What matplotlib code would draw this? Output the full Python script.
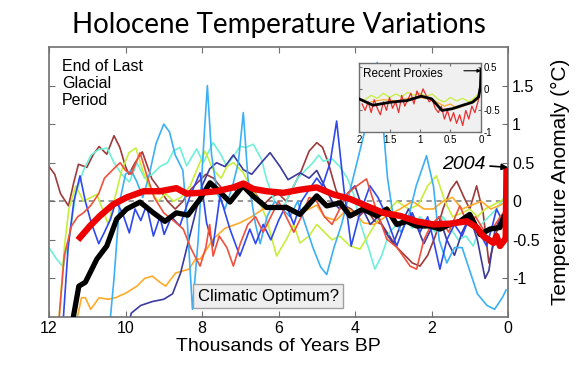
import matplotlib
matplotlib.use("Agg")
import matplotlib.pyplot as plt

# ---------------- data (thousands of years BP, temperature anomaly in C) -------------
brown_x = [12.0,11.85,11.7,11.49,11.35,11.23,11.01,10.85,10.69,10.49,10.30,10.15,10.0,9.91,9.75,9.56,9.31,9.1,8.9,8.7,8.5,8.3,8.1,7.9,7.7,7.45,7.25,7.05,6.85,6.6,6.4,6.2,6.0,5.8,5.6,5.4,5.2,5.0,4.85,4.7,4.5,4.3,4.1,3.9,3.7,3.5,3.3,3.1,2.9,2.7,2.5,2.3,2.1,1.9,1.7,1.5,1.34,1.15,1.0,0.82,0.65,0.5,0.4,0.25,0.1]
brown_y = [0.45,0.35,0.1,-0.06,0.25,0.48,0.44,0.6,0.71,0.61,0.85,0.7,0.45,0.35,0.5,0.64,0.29,0.15,0.0,-0.1,0.0,0.15,0.25,0.35,0.3,0.15,0.2,0.1,0.25,0.1,-0.05,0.05,0.1,0.0,0.2,0.4,0.65,0.76,0.7,0.5,0.15,-0.05,-0.1,-0.2,-0.1,-0.25,-0.3,-0.45,-0.6,-0.7,-0.8,-0.84,-0.7,-0.45,-0.1,0.15,0.26,0.05,-0.1,0.2,-0.15,-0.8,-0.6,-0.3,-0.2]

navy_x = [10.0,9.85,9.6,9.3,9.0,8.77,8.56,8.34,8.17,8.0,7.8,7.62,7.4,7.18,6.92,6.7,6.45,6.22,5.96,5.75,5.44,5.2,5.0,4.8,4.6,4.4,4.2,4.0,3.8,3.6,3.4,3.2,3.0,2.8,2.6,2.4,2.2,2.0,1.8,1.6,1.4,1.2,1.0,0.8,0.6,0.5,0.35,0.2,0.08]
navy_y = [-1.8,-1.45,-1.35,-1.3,-1.27,-1.2,-0.93,-0.49,-0.15,0.2,0.42,0.5,0.45,0.6,0.41,0.35,0.5,0.63,0.45,0.28,0.37,0.3,0.4,0.2,0.0,-0.1,0.1,0.2,-0.1,-0.3,-0.2,-0.4,-0.55,-0.3,-0.1,-0.3,-0.55,-0.35,-0.2,-0.5,-0.7,-0.4,-0.2,-0.5,-1.0,-0.9,-0.4,-0.2,-0.3]

blue_x = [11.65,11.5,11.35,11.19,11.05,10.9,10.7,10.55,10.39,10.25,10.08,9.9,9.75,9.6,9.45,9.27,9.1,8.99,8.8,8.58,8.31,8.05,7.88,7.71,7.53,7.27,7.01,6.75,6.6,6.4,6.2,6.0,5.8,5.6,5.4,5.2,5.0,4.85,4.65,4.48,4.3,4.1,3.9,3.61,3.4,3.26,2.91,2.7,2.5,2.3,2.1,1.95,1.78,1.6,1.4,1.2,1.0,0.8,0.56,0.4,0.3,0.15,0.05]
blue_y = [-1.7,-0.6,0.0,0.33,0.0,-0.27,-0.55,-0.4,-0.23,0.0,-0.15,-0.41,-0.1,-0.25,-0.05,-0.45,-0.2,-0.43,-0.2,-0.32,0.07,0.37,-0.28,-0.58,0.07,-0.36,-0.71,-0.36,-0.55,-0.3,-0.5,-0.25,-0.05,-0.3,0.0,0.15,0.3,0.2,0.5,1.04,0.2,-0.58,-0.2,0.2,0.05,-0.1,-0.58,-0.3,-0.15,-0.4,-0.2,-0.5,-0.88,-0.5,-0.3,-0.45,-0.2,-0.35,-0.58,-0.3,-0.1,-0.25,-0.2]

lblue_x = [10.45,10.3,10.15,10.0,9.85,9.7,9.55,9.4,9.2,9.0,8.85,8.7,8.5,8.38,8.25,8.1,7.95,7.86,7.75,7.6,7.4,7.2,7.05,6.92,6.8,6.6,6.48,6.3,6.1,5.9,5.7,5.5,5.3,5.1,4.9,4.74,4.55,4.35,4.15,3.95,3.75,3.55,3.42,3.3,3.15,3.0,2.8,2.6,2.4,2.13,1.95,1.8,1.6,1.4,1.2,1.0,0.8,0.55,0.35,0.15,0.05]
lblue_y = [-1.8,-1.0,0.0,0.35,0.4,0.25,0.05,0.3,0.75,1.0,0.9,0.6,0.4,-0.3,-1.4,-0.5,0.8,1.5,0.6,0.1,-0.1,0.2,0.5,1.15,0.3,-0.3,-0.55,-0.2,0.0,-0.1,-0.2,0.0,-0.3,-0.6,-0.85,-0.95,-0.6,-0.3,0.1,0.5,0.9,1.5,1.8,1.2,0.3,-0.2,-0.4,-0.2,0.2,0.59,0.2,-0.5,-0.8,-0.6,-0.6,-0.9,-1.2,-1.35,-1.4,-1.25,-1.15]

aqua_x = [12.0,11.8,11.63,11.45,11.3,11.1,10.9,10.7,10.48,10.3,10.1,9.9,9.7,9.5,9.3,9.1,8.9,8.75,8.58,8.4,8.14,7.97,7.71,7.5,7.36,7.15,7.01,6.84,6.66,6.44,6.31,6.1,5.9,5.7,5.5,5.3,5.1,4.95,4.83,4.6,4.4,4.2,4.04,3.85,3.65,3.48,3.3,3.1,2.9,2.7,2.5,2.3,2.1,1.9,1.7,1.5,1.3,1.1,0.91,0.7,0.5,0.3,0.1]
aqua_y = [-0.6,-0.75,-0.85,-0.4,0.1,0.4,0.6,0.67,0.69,0.5,0.35,0.25,0.5,0.3,0.35,0.45,0.5,0.65,0.7,0.46,0.68,0.5,0.76,0.6,0.46,0.6,0.71,0.70,0.74,0.54,0.28,0.0,-0.1,0.1,0.3,0.4,0.5,0.6,0.52,0.55,0.45,0.3,0.1,-0.3,-0.6,-0.88,-0.7,-0.4,-0.3,-0.2,-0.35,-0.2,-0.3,-0.4,-0.2,-0.35,-0.5,-0.45,-0.58,-0.3,-0.2,-0.1,0.05]

ygreen_x = [11.75,11.6,11.48,11.3,11.1,10.9,10.75,10.6,10.45,10.3,10.1,9.91,9.73,9.55,9.35,9.15,8.95,8.75,8.55,8.31,8.1,7.92,7.71,7.5,7.35,7.18,6.92,6.75,6.55,6.31,6.05,5.79,5.6,5.44,5.2,5.0,4.8,4.6,4.4,4.13,3.87,3.6,3.35,3.1,2.9,2.6,2.35,2.1,1.87,1.65,1.45,1.2,1.0,0.8,0.6,0.4,0.2,0.05]
ygreen_y = [-1.6,-0.6,-0.1,0.2,0.0,0.05,0.09,-0.1,-0.3,0.0,0.4,0.63,0.69,0.4,0.15,0.0,0.1,0.0,0.05,0.2,0.45,0.65,0.41,0.3,0.45,0.5,0.37,0.2,0.05,-0.23,-0.71,-0.49,-0.3,-0.54,-0.45,-0.3,-0.4,-0.5,-0.45,-0.58,-0.62,-0.4,-0.2,-0.1,0.0,-0.1,-0.05,0.2,0.33,0.0,-0.2,-0.15,-0.1,-0.2,-0.1,-0.05,0.0,0.05]

orange_x = [11.3,11.15,11.05,10.91,10.69,10.45,10.26,9.99,9.7,9.5,9.3,9.1,8.95,8.69,8.34,8.17,8.05,7.85,7.71,7.4,7.01,6.7,6.4,6.1,5.8,5.44,5.2,5.0,4.8,4.5,4.2,4.0,3.78,3.5,3.2,2.82,2.5,2.2,1.95,1.7,1.45,1.2,0.95,0.7,0.45,0.2,0.05]
orange_y = [-1.6,-1.25,-1.25,-1.40,-1.25,-1.27,-1.25,-1.19,-1.1,-1.0,-0.97,-1.05,-1.10,-0.93,-0.88,-0.75,-0.75,-0.6,-0.49,-0.35,-0.28,-0.2,-0.1,-0.1,-0.05,-0.15,-0.1,-0.05,-0.2,-0.25,-0.1,-0.15,-0.28,-0.3,-0.2,-0.1,0.0,-0.1,-0.1,0.0,0.05,-0.1,-0.05,0.0,-0.1,-0.05,0.0]

red_x = [11.75,11.6,11.41,11.25,11.1,10.9,10.7,10.55,10.41,10.25,10.14,10.0,9.85,9.62,9.45,9.25,9.0,8.75,8.49,8.3,8.05,7.9,7.8,7.71,7.55,7.35,7.18,7.0,6.8,6.6,6.4,6.2,6.0,5.8,5.6,5.4,5.2,5.0,4.8,4.6,4.4,4.2,3.95,3.7,3.45,3.17,2.9,2.56,2.39,2.2,2.0,1.8,1.55,1.26,1.05,0.85,0.6,0.4,0.2,0.05]
red_y = [-1.6,-0.7,-0.32,-0.2,-0.15,-0.05,0.1,0.3,0.37,0.45,0.5,0.4,0.35,0.63,0.35,0.05,-0.15,-0.25,-0.36,-0.6,-0.84,-0.6,-0.3,-0.71,-0.45,-0.6,-0.84,-0.55,-0.3,-0.2,-0.4,-0.2,0.0,-0.2,-0.4,-0.2,0.05,0.0,-0.2,-0.3,-0.1,0.1,0.2,0.29,-0.1,-0.49,-0.6,-0.84,-0.88,-0.5,-0.3,-0.2,-0.4,-0.06,-0.3,-0.2,-0.4,-0.35,-0.2,-0.1]

avg_x = [11.36,11.22,11.05,10.75,10.49,10.23,9.97,9.62,9.27,8.97,8.67,8.37,8.05,7.79,7.53,7.27,6.93,6.67,6.31,5.79,5.44,5.0,4.74,4.39,4.13,3.79,3.43,3.17,2.91,2.65,2.39,2.04,1.78,1.52,1.26,1.0,0.73,0.47,0.21,0.1]
avg_y = [-1.49,-1.10,-1.05,-0.75,-0.58,-0.23,-0.10,-0.01,-0.15,-0.26,-0.15,-0.18,0.03,0.24,0.12,-0.01,0.20,0.07,-0.08,-0.08,-0.17,0.07,-0.06,-0.02,-0.19,-0.10,-0.19,-0.10,-0.30,-0.26,-0.32,-0.32,-0.36,-0.30,-0.26,-0.17,-0.43,-0.36,-0.34,-0.19]

recent_x = [11.19,10.93,10.67,10.32,9.97,9.53,9.10,8.67,8.40,8.05,7.62,7.18,6.92,6.66,6.31,5.87,5.44,5.0,4.57,4.13,3.70,3.26,2.82,2.39,1.95,1.52,1.08,0.82,0.65,0.5,0.38,0.3,0.21,0.12,0.06,0.04]
recent_y = [-0.47,-0.32,-0.19,-0.04,0.05,0.13,0.13,0.17,0.10,0.11,0.13,0.18,0.23,0.16,0.13,0.11,0.15,0.18,0.09,0.03,-0.06,-0.15,-0.19,-0.26,-0.30,-0.29,-0.26,-0.34,-0.45,-0.50,-0.54,-0.45,-0.58,-0.52,-0.49,0.40]

# inset: last 2000 years
in_black_x = [2.0,1.77,1.49,1.21,0.98,0.81,0.64,0.47,0.30,0.14,0.04,0.01,0.0]
in_black_y = [-0.23,-0.38,-0.31,-0.27,-0.17,-0.23,-0.50,-0.46,-0.38,-0.31,-0.19,0.04,0.45]
in_red_x = [1.95,1.9,1.85,1.8,1.75,1.7,1.65,1.6,1.55,1.5,1.45,1.4,1.35,1.3,1.25,1.2,1.15,1.1,1.05,1.0,0.95,0.9,0.85,0.8,0.75,0.7,0.65,0.6,0.55,0.5,0.45,0.4,0.35,0.3,0.25,0.2,0.15,0.1,0.05,0.02]
in_red_y = [-0.35,-0.5,-0.3,-0.55,-0.25,-0.45,-0.6,-0.3,-0.5,-0.2,-0.45,-0.3,-0.55,-0.15,-0.4,-0.25,-0.1,-0.35,-0.05,-0.2,0.0,-0.15,-0.3,-0.25,-0.45,-0.55,-0.4,-0.7,-0.5,-0.75,-0.55,-0.8,-0.6,-0.85,-0.5,-0.7,-0.4,-0.55,-0.3,-0.05]
in_yg_x = [1.9,1.8,1.7,1.6,1.5,1.4,1.3,1.2,1.1,1.0,0.9,0.8,0.7,0.6,0.5,0.4,0.3,0.2,0.1,0.03]
in_yg_y = [-0.25,-0.15,-0.22,-0.1,-0.2,-0.12,-0.18,-0.08,-0.15,-0.1,-0.18,-0.12,-0.25,-0.3,-0.2,-0.28,-0.22,-0.3,-0.2,-0.1]
in_or_x = [1.8,1.6,1.4,1.2,1.0,0.8,0.6,0.5,0.4,0.3,0.2,0.1,0.03]
in_or_y = [-0.3,-0.25,-0.28,-0.22,-0.2,-0.25,-0.4,-0.35,-0.45,-0.4,-0.35,-0.3,-0.15]

xticks = [12, 10, 8, 6, 4, 2, 0]
yticks = [-1, -0.5, 0, 0.5, 1, 1.5]
ytick_labels = ["-1", "-0.5", "0", "0.5", "1", "1.5"]
in_xticks = [2, 1.5, 1, 0.5, 0]
in_xtick_labels = ["2", "1.5", "1", "0.5", "0"]
in_yticks = [-1, -0.5, 0, 0.5]
in_ytick_labels = ["-1", "-0.5", "0", "0.5"]

# ---------------- figure -------------
plt.rcParams["font.family"] = ["Liberation Sans", "DejaVu Sans"]
W, H = 580, 369
fig = plt.figure(figsize=(W/100, H/100), dpi=100)
spine_col = "#707070"
ax = fig.add_axes([49/W, 1-317/H, (508-49)/W, (317-47)/H])
ax.set_xlim(12, 0)
ax.set_ylim(-1.5, 2.0)

thin = 1.2
series = [
    (brown_x, brown_y, "#9E3A3A"),
    (aqua_x, aqua_y, "#6FF0D8"),
    (ygreen_x, ygreen_y, "#C8EE3C"),
    (orange_x, orange_y, "#FFAA28"),
    (navy_x, navy_y, "#3A3AA0"),
    (lblue_x, lblue_y, "#3CB0F5"),
    (blue_x, blue_y, "#2E48F0"),
    (red_x, red_y, "#F0503C"),
]
ax.axhline(0, color="#909090", lw=1.3, ls=(0, (3, 2.5)), zorder=1)
for xs, ys, c in series:
    ax.plot(xs, ys, color=c, lw=thin, zorder=2, solid_joinstyle="round")
ax.plot(avg_x, avg_y, color="black", lw=3.8, zorder=4, solid_capstyle="round", solid_joinstyle="round")
ax.plot(recent_x, recent_y, color="#EE0000", lw=4.6, zorder=5, solid_joinstyle="round")

ax.set_xticks(xticks)
ax.set_xticklabels([str(t) for t in xticks])
ax.set_yticks(yticks)
ax.set_yticklabels(ytick_labels)
ax.yaxis.tick_right()
ax.tick_params(axis="both", direction="in", labelsize=11.5, length=4, color=spine_col,
               top=True, bottom=True, left=True, right=True, pad=3)
ax.tick_params(axis="y", labelleft=False, labelright=True)
for s in ax.spines.values():
    s.set_color(spine_col)
    s.set_linewidth(1.2)

ax.set_xlabel("Thousands of Years BP", fontsize=14, labelpad=1)
ax.yaxis.set_label_position("right")
ax.set_ylabel("Temperature Anomaly (°C)", fontsize=15, labelpad=8)
fig.text(279/W, 1-25/H, "Holocene Temperature Variations", fontsize=20,
         family=["Lato", "DejaVu Sans"], ha="center", va="center")

ax.text(0.028, 0.955, "End of Last\nGlacial\nPeriod", transform=ax.transAxes, fontsize=11.5,
        ha="left", va="top", linespacing=1.15)
ax.text(268/W, 1-296/H, "Climatic Optimum?", transform=fig.transFigure, fontsize=12,
        ha="center", va="center", zorder=10,
        bbox=dict(boxstyle="square,pad=0.25", fc="#EFEFEF", ec="#A0A0A0", lw=1))
ax.annotate("2004", xy=(0.0, 0.44), xytext=(1.15, 0.48), fontsize=14, style="italic",
            ha="center", va="center", zorder=10,
            arrowprops=dict(arrowstyle="-|>", color="black", lw=1.2, shrinkA=1, shrinkB=0,
                            mutation_scale=9))

# ---------------- inset -------------
ix = fig.add_axes([359/W, 1-132/H, (481-359)/W, (132-63)/H])
ix.set_facecolor("#F0F0F0")
ix.set_xlim(2, 0)
ix.set_ylim(-1.0, 0.6)
ix.plot(in_red_x, in_red_y, color="#E83030", lw=0.9, zorder=2)
ix.plot(in_yg_x, in_yg_y, color="#C8EE3C", lw=0.9, zorder=1)
ix.plot(in_or_x, in_or_y, color="#FFAA28", lw=0.9, zorder=1)
ix.plot(in_black_x, in_black_y, color="black", lw=2.0, zorder=3)
ix.annotate("", xy=(0.0, 0.42), xytext=(0.28, 0.42),
            arrowprops=dict(arrowstyle="-|>", color="black", lw=0.8, mutation_scale=5,
                            shrinkA=0, shrinkB=0))
ix.text(0.035, 0.93, "Recent Proxies", transform=ix.transAxes, fontsize=8.5, ha="left", va="top")
ix.set_xticks(in_xticks)
ix.set_xticklabels(in_xtick_labels)
ix.set_yticks(in_yticks)
ix.set_yticklabels(in_ytick_labels)
ix.yaxis.tick_right()
ix.tick_params(axis="both", direction="in", labelsize=7, length=2.5, color=spine_col,
               top=True, bottom=True, left=True, right=True, pad=2)
ix.tick_params(axis="y", labelleft=False, labelright=True)
for s in ix.spines.values():
    s.set_color(spine_col)
    s.set_linewidth(1.0)

fig.savefig("out.png", dpi=100)
